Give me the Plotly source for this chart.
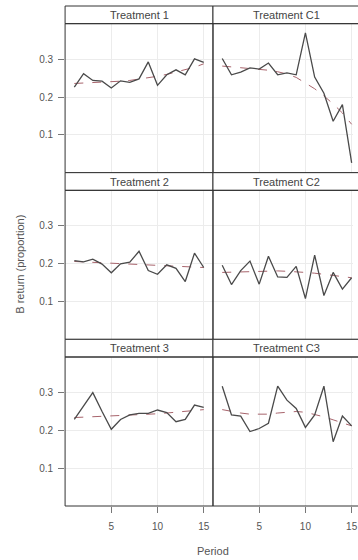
import plotly.graph_objects as go

W, H = 358, 560

period = list(range(1, 16))
panel_titles = ["Treatment 1", "Treatment C1", "Treatment 2", "Treatment C2", "Treatment 3", "Treatment C3"]

t1 = [0.226, 0.262, 0.244, 0.242, 0.224, 0.243, 0.239, 0.248, 0.293, 0.231, 0.259, 0.272, 0.259, 0.301, 0.292]
c1 = [0.302, 0.259, 0.266, 0.277, 0.274, 0.290, 0.259, 0.264, 0.259, 0.370, 0.253, 0.210, 0.136, 0.180, 0.026]
t2 = [0.208, 0.205, 0.212, 0.199, 0.176, 0.200, 0.204, 0.233, 0.182, 0.172, 0.197, 0.188, 0.153, 0.228, 0.190]
c2 = [0.196, 0.145, 0.182, 0.207, 0.146, 0.220, 0.165, 0.164, 0.193, 0.108, 0.223, 0.116, 0.177, 0.133, 0.163]
t3 = [0.229, 0.265, 0.300, 0.250, 0.203, 0.229, 0.241, 0.245, 0.245, 0.254, 0.247, 0.223, 0.229, 0.267, 0.261]
c3 = [0.317, 0.241, 0.238, 0.197, 0.205, 0.219, 0.317, 0.280, 0.258, 0.208, 0.241, 0.317, 0.170, 0.238, 0.212]

t1_smooth = [0.236, 0.237, 0.238, 0.239, 0.240, 0.242, 0.244, 0.247, 0.251, 0.255, 0.260, 0.266, 0.272, 0.279, 0.288]
c1_smooth = [0.282, 0.280, 0.278, 0.276, 0.274, 0.271, 0.267, 0.261, 0.252, 0.238, 0.222, 0.203, 0.182, 0.158, 0.128]
t2_smooth = [0.206, 0.205, 0.204, 0.203, 0.202, 0.201, 0.200, 0.199, 0.198, 0.196, 0.195, 0.194, 0.193, 0.191, 0.190]
c2_smooth = [0.177, 0.178, 0.179, 0.180, 0.181, 0.181, 0.181, 0.180, 0.179, 0.177, 0.175, 0.172, 0.169, 0.166, 0.163]
t3_smooth = [0.234, 0.235, 0.236, 0.237, 0.238, 0.239, 0.240, 0.241, 0.242, 0.244, 0.246, 0.248, 0.250, 0.252, 0.255]
c3_smooth = [0.255, 0.250, 0.246, 0.243, 0.242, 0.243, 0.246, 0.249, 0.250, 0.248, 0.243, 0.236, 0.228, 0.220, 0.212]

series = [t1, c1, t2, c2, t3, c3]
smooths = [t1_smooth, c1_smooth, t2_smooth, c2_smooth, t3_smooth, c3_smooth]

y_ticks = [0.1, 0.2, 0.3]
x_ticks = [5, 10, 15]

# pixel geometry
px_per_x = 9.375
col_x = [(66, 216), (216, 216 + 150)]
strip_h = 17.67
panel_h = 149
top0 = 6
rows = []
for r in range(3):
    s_top = top0 + r * (strip_h + panel_h)
    s_bot = s_top + strip_h
    p_bot = s_bot + panel_h
    rows.append((s_top, s_bot, p_bot))

def fx(px):
    return px / W

def fy(py):
    return 1 - py / H

FONT = "Liberation Sans, Arial, sans-serif"
fig = go.Figure()
layout = dict(
    width=W, height=H, margin=dict(l=0, r=0, t=0, b=0),
    paper_bgcolor="white", plot_bgcolor="white", showlegend=False,
    font=dict(family=FONT, size=10, color="#555"),
)
shapes = []
annotations = []

for k in range(6):
    r, c = divmod(k, 2)
    s_top, s_bot, p_bot = rows[r]
    x0p, x1p = col_x[c]
    x1clip = min(x1p, W)
    idx = "" if k == 0 else str(k + 1)
    xa = "xaxis" + idx
    ya = "yaxis" + idx
    xr = [0, (x1clip - x0p) / px_per_x]
    layout[xa] = dict(
        domain=[fx(x0p), fx(x1clip)], range=xr, anchor="y" + idx,
        tickvals=x_ticks, showgrid=True, gridcolor="#ececec", gridwidth=1,
        zeroline=False, showline=False,
        ticks="outside" if r == 2 else "", ticklen=6, tickcolor="#777",
        showticklabels=(r == 2), tickfont=dict(size=10, color="#555", family=FONT),
        ticklabeloverflow="allow", ticklabelstandoff=5,
    )
    layout[ya] = dict(
        domain=[fy(p_bot), fy(s_bot)], range=[0, panel_h / 378.0], anchor="x" + idx,
        tickvals=y_ticks, showgrid=True, gridcolor="#ececec", gridwidth=1,
        zeroline=False, showline=False,
        ticks="outside" if c == 0 else "", ticklen=6, tickcolor="#777",
        showticklabels=(c == 0), tickfont=dict(size=10, color="#555", family=FONT),
        ticklabelstandoff=3,
    )
    fig.add_trace(go.Scatter(x=period, y=smooths[k], mode="lines", xaxis="x" + idx, yaxis="y" + idx,
                             line=dict(color="#a8646c", width=1, dash="dash"), hoverinfo="skip"))
    fig.add_trace(go.Scatter(x=period, y=series[k], mode="lines", xaxis="x" + idx, yaxis="y" + idx,
                             line=dict(color="#4a4a4a", width=1.3), hoverinfo="skip"))
    # strip box
    shapes.append(dict(type="rect", xref="paper", yref="paper",
                       x0=fx(x0p), x1=fx(x1p), y0=fy(s_bot), y1=fy(s_top),
                       line=dict(color="#333", width=1), fillcolor="white", layer="above"))
    # panel box
    shapes.append(dict(type="rect", xref="paper", yref="paper",
                       x0=fx(x0p), x1=fx(x1p), y0=fy(p_bot), y1=fy(s_bot),
                       line=dict(color="#333", width=1), fillcolor="rgba(0,0,0,0)", layer="above"))
    annotations.append(dict(text=panel_titles[k], xref="paper", yref="paper",
                            x=fx((x0p + x1p) / 2), y=fy((s_top + s_bot) / 2),
                            showarrow=False, xanchor="center", yanchor="middle",
                            font=dict(size=11, color="#444", family=FONT)))

annotations.append(dict(text="B return (proportion)", xref="paper", yref="paper",
                        x=fx(20), y=fy(264), textangle=-90, showarrow=False,
                        xanchor="center", yanchor="middle",
                        font=dict(size=11, color="#555", family=FONT)))
annotations.append(dict(text="Period", xref="paper", yref="paper",
                        x=fx(216), y=fy(551), showarrow=False,
                        xanchor="center", yanchor="middle",
                        font=dict(size=11, color="#555", family=FONT)))

layout["shapes"] = shapes
layout["annotations"] = annotations
fig.update_layout(**layout)
fig.write_html(
    "out.html",
    config={"displayModeBar": False, "staticPlot": True},
    post_script="document.body.style.margin='0px';document.body.style.padding='0px';document.body.style.overflow='hidden';",
)
